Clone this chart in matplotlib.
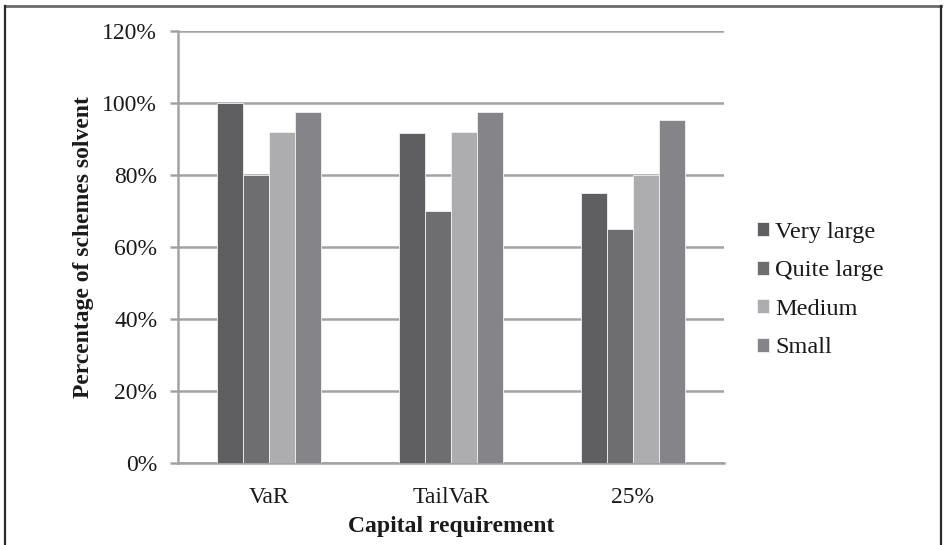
import matplotlib
matplotlib.use("Agg")
import matplotlib.pyplot as plt
from matplotlib.lines import Line2D
from matplotlib.ticker import FuncFormatter
import numpy as np

plt.rcParams['font.family'] = ['Liberation Serif', 'DejaVu Serif']

categories = ["VaR", "TailVaR", "25%"]
series_names = ["Very large", "Quite large", "Medium", "Small"]
very_large = [100, 91.6, 75]
quite_large = [80, 70, 65]
medium = [92, 92, 80]
small = [97.5, 97.5, 95.2]
colors = ["#5f5f61", "#6e6e70", "#adadb0", "#858589"]

values = [very_large, quite_large, medium, small]

fig = plt.figure(figsize=(9.44, 5.45), dpi=100)
ax = fig.add_axes([178 / 944, 1 - 463 / 545, 546 / 944, 432 / 545])

x = np.arange(len(categories))
bw = 1 / 7
for i, (name, vals, c) in enumerate(zip(series_names, values, colors)):
    ax.bar(x + (i - 1.5) * bw, vals, width=bw, color=c, label=name,
           edgecolor="#f2f2f2", linewidth=0.6, zorder=3)

ax.set_xlim(-0.5, 2.5)
ax.set_ylim(0, 120)
ax.set_yticks(np.arange(0, 121, 20))
ax.yaxis.set_major_formatter(FuncFormatter(lambda v, p: f"{int(v)}%"))
ax.yaxis.grid(True, color="#a3a3a3", linewidth=1.8, zorder=0)
ax.set_axisbelow(True)
ax.set_xticks(x)
ax.set_xticklabels(categories)

for s in ["top", "right"]:
    ax.spines[s].set_visible(False)
ax.spines["left"].set_color("#a3a3a3")
ax.spines["left"].set_linewidth(1.8)
ax.spines["bottom"].set_color("#a3a3a3")
ax.spines["bottom"].set_linewidth(1.8)

ax.tick_params(axis="y", length=6, width=1.8, color="#a3a3a3", pad=9,
               labelsize=17, labelcolor="#1a1a1a")
ax.tick_params(axis="x", length=0, pad=17, labelsize=17, labelcolor="#1a1a1a")

ax.set_ylabel("Percentage of schemes solvent", fontsize=17, fontweight="bold",
              color="#1a1a1a", labelpad=6)
ax.set_xlabel("Capital requirement", fontsize=17, fontweight="bold",
              color="#1a1a1a", labelpad=6)

fig.legend(loc="center left", bbox_to_anchor=(757 / 944, 1 - 290 / 545),
           frameon=False, fontsize=17.5, borderpad=0, borderaxespad=0,
           handlelength=0.5, handleheight=0.5, handletextpad=0.25,
           labelspacing=0.72, labelcolor="#1a1a1a")

# outer frame around the chart
fig.add_artist(Line2D([5 / 944, 941 / 944], [1 - 6 / 545, 1 - 6 / 545],
                      transform=fig.transFigure, color="#6a6a6a", linewidth=2))
fig.add_artist(Line2D([5 / 944, 5 / 944], [0, 1 - 6 / 545],
                      transform=fig.transFigure, color="#2a2a2a", linewidth=1.6))
fig.add_artist(Line2D([941 / 944, 941 / 944], [0, 1 - 6 / 545],
                      transform=fig.transFigure, color="#2a2a2a", linewidth=1.6))

fig.savefig("out.png", dpi=100)
